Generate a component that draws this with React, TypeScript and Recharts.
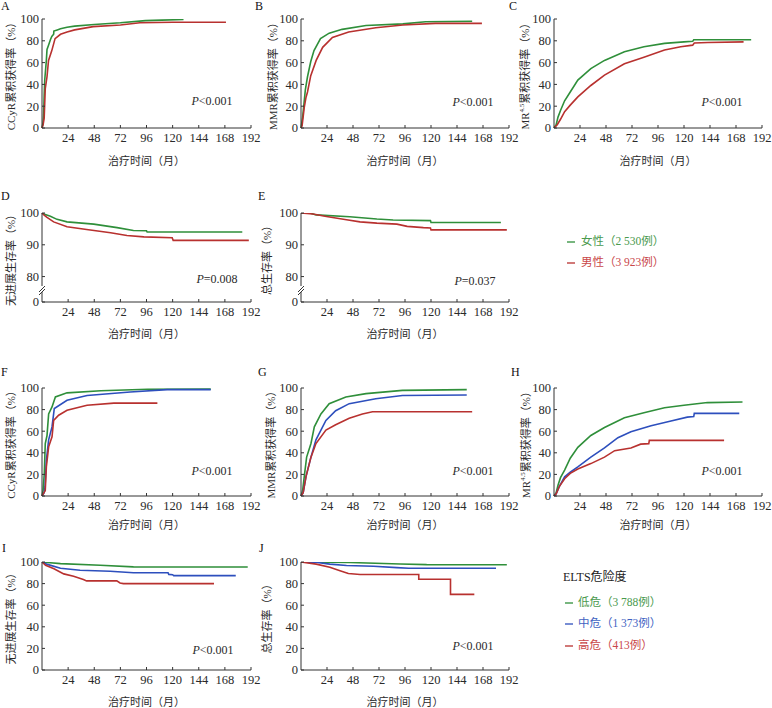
import React from "react";
import { LineChart, Line, XAxis, YAxis } from "recharts";

const MONTH_TICKS = [24, 48, 72, 96, 120, 144, 168, 192];
const RATE_TICKS = [0, 20, 40, 60, 80, 100];
const SURV_TICKS = [72, 80, 90, 100]; // 72 sits at the axis break and is shown as 0

const GREEN = "#2f8f3a";
const RED = "#b8312f";
const BLUE = "#2d4fbd";

// sex: [month, %] points along each curve
const ccyrFemale = [[0, 0], [1, 5], [1.5, 12], [2, 30], [2.5, 44], [3, 50], [4, 62], [4.6, 72], [6, 76], [7.7, 81], [9, 84], [10.7, 86], [10.9, 89], [14, 90], [17, 91], [23, 92.5], [30, 93.5], [48, 95], [72, 96.5], [95, 98.5], [110, 99], [130, 99.5]];
const ccyrMale = [[0, 0], [1, 3], [2, 9], [3, 36], [4.6, 47], [6, 62], [9, 71], [12, 82], [17, 86], [23, 88], [30, 90], [47, 93], [72, 94.5], [90, 96.5], [120, 97], [169, 97]];
const mmrFemale = [[0, 0], [1.5, 10], [3, 25], [4, 35], [6, 47], [9, 61], [12, 71], [18, 82], [26, 87], [38, 90.5], [60, 94], [94, 95.5], [115, 97.5], [158, 98]];
const mmrMale = [[0, 0], [1, 2], [3, 19], [4.6, 28], [6, 33], [9, 48], [14, 62], [20, 74], [29, 83], [44, 88], [69, 92], [94, 94.5], [124, 96], [167, 96]];
const mr45Female = [[0, 0], [2, 3], [3.7, 10], [6, 16], [9.8, 25], [15, 33], [22, 44], [34, 54.5], [46.6, 62], [65, 70], [83, 74.5], [102, 77.6], [120, 79], [128, 79.5], [129, 81], [182, 81]];
const mr45Male = [[0, 0], [3, 3], [6, 8], [9.8, 15], [15, 21], [22, 28.5], [34, 39], [46.6, 48.5], [65, 59], [83, 65], [102, 71.5], [117, 74.5], [128, 76], [129.5, 78], [142, 78.5], [175, 79]];
const pfsFemale = [[0, 100], [3, 99.5], [7.7, 99], [13.8, 98], [23, 97.2], [47.5, 96.5], [69, 95.4], [84, 94.5], [96, 94.4], [96.6, 94], [184, 94]];
const pfsMale = [[0, 100], [2, 99.3], [4.6, 98.6], [10.7, 97.2], [23, 95.7], [41, 94.8], [63, 93.8], [78, 92.9], [93.6, 92.5], [119.6, 92.2], [120.5, 91.4], [190, 91.4]];
const osFemale = [[0, 100], [8, 100], [14, 99.4], [45, 98.8], [70, 98.1], [85, 97.8], [119.5, 97.6], [120, 97], [184.5, 97]];
const osMale = [[0, 100], [11, 99.7], [23.5, 98.9], [42, 97.9], [54.5, 97.2], [70, 96.8], [88.5, 96.5], [98, 95.8], [113, 95.4], [119.5, 95.3], [120, 94.7], [190, 94.7]];

// ELTS risk: [month, %] points along each curve
const ccyrLow = [[0, 0], [1, 5], [2.1, 21], [3, 48.6], [4.6, 56], [6.1, 76], [9.2, 82.5], [12.3, 91.7], [23, 95.5], [54, 97.5], [97, 98.8], [155, 99]];
const ccyrMid = [[0, 0], [2, 3], [2.8, 8.6], [4, 33], [6.1, 52], [9.2, 64], [11.3, 81], [23, 88.6], [41.4, 93], [81, 96.3], [115, 98.5], [155, 98.5]];
const ccyrHigh = [[0, 0], [3, 5], [4, 27], [6.1, 45.5], [9.2, 54.8], [10.7, 70], [15.3, 74.8], [23, 79.4], [41.4, 84], [66, 86], [106, 86]];
const mmrLow = [[0, 0], [1.5, 5], [3, 18], [5.2, 36], [9.2, 48.6], [12.3, 64], [18.4, 76], [26, 85.5], [41.4, 91.7], [60, 94.8], [93.6, 97.8], [153, 98.5]];
const mmrMid = [[0, 0], [2, 3], [4.6, 18], [9.2, 36], [13.8, 52], [23, 70], [32, 79], [44.5, 85.5], [69, 90], [93.6, 93], [153, 93.5]];
const mmrHigh = [[0, 0], [2, 3], [4.6, 18], [9.2, 36], [13.8, 48.6], [23, 61], [32, 66], [44.5, 72], [56.7, 76], [66, 78], [158, 78]];
const mr45Low = [[0, 0], [2, 3], [3.7, 10], [6, 17], [9.8, 24], [15, 35], [22, 45], [34, 56], [46.6, 63.4], [65, 72.5], [83, 77], [102, 81.7], [120, 84], [141.7, 86.5], [174, 87]];
const mr45Mid = [[0, 0], [2, 2], [5, 9], [9.8, 17.7], [15, 22], [22, 27], [34, 36], [46.6, 44.5], [59, 54], [71, 59.5], [89.6, 65], [108, 69.5], [123, 73], [129, 73.5], [129.5, 76.5], [171, 76.5]];
const mr45High = [[0, 0], [2, 2], [5, 9], [9.8, 16], [15, 21], [22, 25], [34, 30], [46.6, 36], [56, 42], [71, 44.5], [80, 48], [87.5, 48.5], [88, 51.5], [157, 51.5]];
const pfsLow = [[0, 100], [5, 99.5], [17, 98.5], [53.5, 97], [84, 95.5], [189, 95.4]];
const pfsMid = [[0, 100], [4.9, 97.8], [17, 94.2], [35, 92.3], [62.6, 91.4], [84, 90], [115.8, 90], [116.5, 88.5], [120, 88.2], [121, 87.4], [178, 87.4]];
const pfsHigh = [[0, 100], [3.3, 96.9], [11, 93.8], [20, 89], [29, 86.8], [38, 83.7], [41, 82.5], [68.7, 82.5], [71.7, 80.6], [74.8, 80], [158, 80]];
const osLow = [[0, 100], [45, 99.5], [91.6, 98.2], [116, 97.6], [190, 97.5]];
const osMid = [[0, 100], [15, 99.5], [26.6, 98], [42, 96.8], [67, 96], [88.5, 94.8], [99.4, 94.2], [180, 94.2]];
const osHigh = [[0, 100], [14, 98], [26.6, 95.1], [36, 92], [43.7, 89.3], [54.5, 88.4], [108.7, 88.4], [108.7, 84], [138, 84], [138, 70], [160, 70]];

const SERIF = "'Liberation Serif', 'Noto Sans CJK SC', serif";
const TXT = "#2a2a2a";

const toPts = (arr: number[][]) => arr.map(([t, v]) => ({ t, v }));

type Series = { data: number[][]; color: string };

function Panel({ x, y, w, h, series, broken }: { x: number; y: number; w: number; h: number; series: Series[]; broken?: boolean }) {
  return (
    <div style={{ position: "absolute", left: x - 40, top: y - 8 }}>
      <LineChart width={40 + w + 10} height={8 + h + 30} margin={{ top: 8, right: 10, bottom: 0, left: 0 }}>
        <XAxis
          type="number"
          dataKey="t"
          domain={[0, 192]}
          ticks={MONTH_TICKS}
          height={30}
          tickSize={-3}
          tickMargin={8}
          stroke="#333"
          tick={{ fill: TXT, fontSize: 12.5, fontFamily: SERIF }}
        />
        <YAxis
          type="number"
          dataKey="v"
          width={40}
          domain={broken ? [72, 100] : [0, 100]}
          ticks={broken ? SURV_TICKS : RATE_TICKS}
          tickFormatter={(v: number) => (broken && v === 72 ? "0" : String(v))}
          tickSize={-3}
          tickMargin={6}
          stroke="#333"
          tick={{ fill: TXT, fontSize: 12.5, fontFamily: SERIF }}
          allowDataOverflow
        />
        {series.map((s, i) => (
          <Line
            key={i}
            data={toPts(s.data)}
            dataKey="v"
            type="linear"
            stroke={s.color}
            strokeWidth={1.6}
            dot={false}
            isAnimationActive={false}
          />
        ))}
      </LineChart>
    </div>
  );
}

const COLS = [42, 301, 554];
const WS = [209, 208, 208];
const ROWS = [19, 213, 388, 562];
const HS = [109, 89, 108, 108];

function YTitle({ x, y, children }: { x: number; y: number; children: React.ReactNode }) {
  return (
    <text x={x} y={y} transform={`rotate(-90 ${x} ${y})`} textAnchor="middle" dominantBaseline="middle" fontSize={11} fill={TXT}>
      {children}
    </text>
  );
}

function Mr45() {
  return (
    <>
      MR
      <tspan fontSize={7} dy={-4}>4.5</tspan>
      <tspan dy={4}>累积获得率（%）</tspan>
    </>
  );
}

function PVal({ x, y, op, val }: { x: number; y: number; op: string; val: string }) {
  return (
    <text x={x} y={y} textAnchor="middle" dominantBaseline="middle" fontSize={12} fill={TXT}>
      <tspan fontStyle="italic">P</tspan>
      {op + val}
    </text>
  );
}

function Break({ x }: { x: number }) {
  return (
    <g>
      <rect x={x - 1.5} y={286} width={3} height={6} fill="#fff" />
      <line x1={x - 3} y1={292} x2={x + 3} y2={286} stroke="#333" strokeWidth={1} />
      <line x1={x - 3} y1={295} x2={x + 3} y2={289} stroke="#333" strokeWidth={1} />
    </g>
  );
}

export default function App() {
  const xTitleY = [162, 335, 526, 703];
  const yMid = ROWS.map((r, i) => r + HS[i] / 2);
  const cell = (c: number, r: number, series: Series[], broken?: boolean) => (
    <Panel x={COLS[c]} y={ROWS[r]} w={WS[c]} h={HS[r]} series={series} broken={broken} />
  );
  return (
    <div style={{ position: "absolute", left: 0, top: 0, width: 772, height: 708, overflow: "hidden", background: "#fff", fontFamily: SERIF }}>
      {cell(0, 0, [{ data: ccyrFemale, color: GREEN }, { data: ccyrMale, color: RED }])}
      {cell(1, 0, [{ data: mmrFemale, color: GREEN }, { data: mmrMale, color: RED }])}
      {cell(2, 0, [{ data: mr45Female, color: GREEN }, { data: mr45Male, color: RED }])}
      {cell(0, 1, [{ data: pfsFemale, color: GREEN }, { data: pfsMale, color: RED }], true)}
      {cell(1, 1, [{ data: osFemale, color: GREEN }, { data: osMale, color: RED }], true)}
      {cell(0, 2, [{ data: ccyrLow, color: GREEN }, { data: ccyrMid, color: BLUE }, { data: ccyrHigh, color: RED }])}
      {cell(1, 2, [{ data: mmrLow, color: GREEN }, { data: mmrMid, color: BLUE }, { data: mmrHigh, color: RED }])}
      {cell(2, 2, [{ data: mr45Low, color: GREEN }, { data: mr45Mid, color: BLUE }, { data: mr45High, color: RED }])}
      {cell(0, 3, [{ data: pfsLow, color: GREEN }, { data: pfsMid, color: BLUE }, { data: pfsHigh, color: RED }])}
      {cell(1, 3, [{ data: osLow, color: GREEN }, { data: osMid, color: BLUE }, { data: osHigh, color: RED }])}

      <svg width={772} height={708} style={{ position: "absolute", left: 0, top: 0, pointerEvents: "none" }} fontFamily={SERIF}>
        {/* panel letters */}
        {[
          ["A", 1, 10], ["B", 255, 10], ["C", 509, 10],
          ["D", 1, 200], ["E", 258, 200],
          ["F", 1, 376], ["G", 258, 376], ["H", 511, 376],
          ["I", 2, 552], ["J", 259, 552],
        ].map(([l, lx, ly]) => (
          <text key={l as string} x={lx as number} y={ly as number} fontSize={12} fill="#111">{l}</text>
        ))}

        {/* y titles */}
        <YTitle x={COLS[0] - 30} y={yMid[0]}>CCyR累积获得率（%）</YTitle>
        <YTitle x={COLS[1] - 27} y={yMid[0]}>MMR累积获得率（%）</YTitle>
        <YTitle x={COLS[2] - 28} y={yMid[0]}><Mr45 /></YTitle>
        <YTitle x={COLS[0] - 30} y={yMid[1]}>无进展生存率（%）</YTitle>
        <YTitle x={COLS[1] - 33} y={yMid[1]}>总生存率（%）</YTitle>
        <YTitle x={COLS[0] - 30} y={yMid[2]}>CCyR累积获得率（%）</YTitle>
        <YTitle x={COLS[1] - 29} y={yMid[2]}>MMR累积获得率（%）</YTitle>
        <YTitle x={COLS[2] - 27} y={yMid[2]}><Mr45 /></YTitle>
        <YTitle x={COLS[0] - 30} y={yMid[3]}>无进展生存率（%）</YTitle>
        <YTitle x={COLS[1] - 33} y={yMid[3]}>总生存率（%）</YTitle>

        {/* x titles */}
        {[
          [0, 0], [1, 0], [2, 0], [0, 1], [1, 1], [0, 2], [1, 2], [2, 2], [0, 3], [1, 3],
        ].map(([c, r]) => (
          <text key={`${c}-${r}`} x={COLS[c] + WS[c] / 2} y={xTitleY[r]} textAnchor="middle" dominantBaseline="middle" fontSize={11} fill={TXT}>
            治疗时间（月）
          </text>
        ))}

        {/* P values */}
        <PVal x={212} y={102} op="<" val="0.001" />
        <PVal x={473} y={103} op="<" val="0.001" />
        <PVal x={722} y={103} op="<" val="0.001" />
        <PVal x={217} y={280} op="=" val="0.008" />
        <PVal x={475} y={282} op="=" val="0.037" />
        <PVal x={212} y={472} op="<" val="0.001" />
        <PVal x={473} y={472} op="<" val="0.001" />
        <PVal x={722} y={472} op="<" val="0.001" />
        <PVal x={213} y={651} op="<" val="0.001" />
        <PVal x={473} y={647} op="<" val="0.001" />

        <Break x={COLS[0]} />
        <Break x={COLS[1]} />

        {/* sex legend */}
        <line x1={567} x2={575} y1={242} y2={242} stroke={GREEN} strokeWidth={1.3} />
        <text x={581} y={242} dominantBaseline="middle" fontSize={11.5} fill="#4a9a4e">女性（2 530例）</text>
        <line x1={567} x2={575} y1={263} y2={263} stroke={RED} strokeWidth={1.3} />
        <text x={581} y={263} dominantBaseline="middle" fontSize={11.5} fill="#c9474a">男性（3 923例）</text>

        {/* ELTS legend */}
        <text x={563} y={578} dominantBaseline="middle" fontSize={12} fill="#222">ELTS危险度</text>
        <line x1={565} x2={573} y1={603} y2={603} stroke={GREEN} strokeWidth={1.3} />
        <text x={578} y={603} dominantBaseline="middle" fontSize={11.5} fill="#4a9a4e">低危（3 788例）</text>
        <line x1={565} x2={573} y1={624} y2={624} stroke={BLUE} strokeWidth={1.3} />
        <text x={578} y={624} dominantBaseline="middle" fontSize={11.5} fill="#3f63c2">中危（1 373例）</text>
        <line x1={565} x2={573} y1={646} y2={646} stroke={RED} strokeWidth={1.3} />
        <text x={578} y={646} dominantBaseline="middle" fontSize={11.5} fill="#c9474a">高危（413例）</text>
      </svg>
    </div>
  );
}
